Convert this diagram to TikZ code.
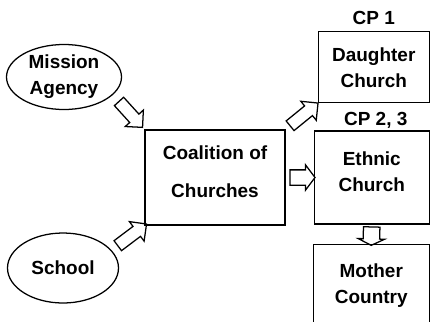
\documentclass[tikz,border=0pt]{standalone}
\usepackage{fontspec}
\setmainfont{Liberation Sans}
\usepackage{tikz}
\usetikzlibrary{shapes.geometric,shapes.arrows,positioning,calc}

\begin{document}
\begin{tikzpicture}[node distance=0.7cm and 0.7cm,
  every node/.style={font=\bfseries\fontsize{13.5}{18.5}\selectfont},
  oval/.style={draw,ellipse,line width=0.9pt,align=center,inner sep=0pt},
  church/.style={draw,line width=0.9pt,align=center,inner sep=0pt},
  cp/.style={inner sep=0pt},
  fatarrow/.style n args={4}{single arrow,draw,line width=0.9pt,sloped,allow upside down,
              inner xsep=0pt,minimum height=#1,inner ysep=#2,
              single arrow head extend=#3,single arrow tip angle=#4}]
\useasboundingbox (0,0) rectangle (10.75,-8.025);
\node[oval,minimum width=2.875cm,minimum height=1.625cm] (ma) at (1.6,-1.925) {Mission\\Agency};
\node[oval,minimum width=2.775cm,minimum height=1.75cm] (sc) at (1.575,-6.7) {School};
\node[church,minimum width=3.5cm,minimum height=2.375cm,text depth=0.3cm] (coal) at (5.375,-4.4375) {Coalition of\\[8.5pt]Churches};
\node[church,minimum width=2.875cm,minimum height=2.325cm,text depth=0.3cm,right=0.7cm of coal] (ec) {Ethnic\\Church};
\node[church,minimum width=2.775cm,minimum height=1.775cm,above=0.675cm of ec.north east,anchor=south east] (dc) {Daughter\\Church};
\node[church,minimum width=2.9cm,minimum height=2.075cm,below=0.475cm of ec.south east,anchor=north east] (mc) {Mother\\Country};
\node[cp,above=0.175cm of dc.north,anchor=base] (cp1) {CP 1};
\node[cp,above=0.125cm of ec.north,anchor=base,xshift=0.1cm] (cp23) {CP 2, 3};
\path (ma.-20) -- node[fatarrow={0.875cm}{0.14cm}{0.15cm}{90}] {} (coal.north west);
\path (sc.20) -- node[pos=0.55,fatarrow={0.9cm}{0.14cm}{0.15cm}{90}] {} (coal.south west);
\path (coal.north east) -- node[fatarrow={0.9cm}{0.14cm}{0.15cm}{90}] {} (dc.south west);
\path (coal.east) -- node[fatarrow={0.625cm}{0.175cm}{0.125cm}{106}] {} (ec.west);
\path (ec.south) -- node[fatarrow={0.46cm}{0.19cm}{0.125cm}{128}] {} (mc.north);
\end{tikzpicture}
\end{document}
